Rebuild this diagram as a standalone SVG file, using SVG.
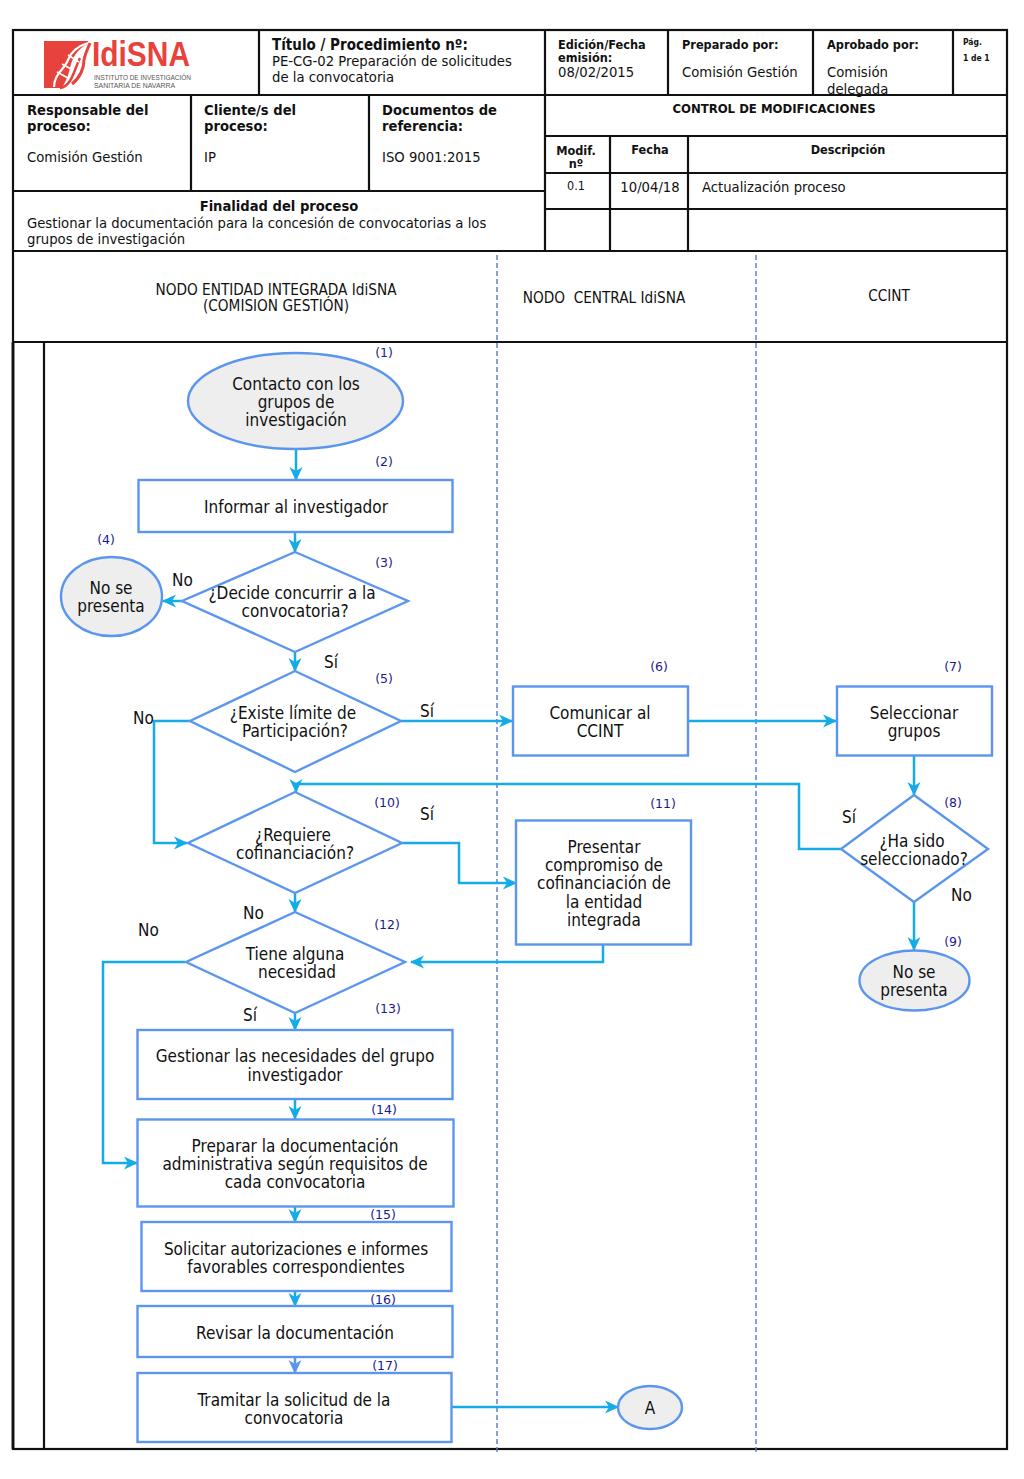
<svg xmlns="http://www.w3.org/2000/svg" width="1024" height="1479" viewBox="0 0 1024 1479">
<style>
text{font-family:"DejaVu Sans Condensed","DejaVu Sans","Liberation Sans",sans-serif;font-stretch:condensed;fill:#111}
.h{font-size:14.6px;font-weight:bold}
.t{font-size:14.7px}
.s{font-size:12.6px;font-weight:bold}
.n{font-size:17px;text-anchor:middle;transform:translateY(0.7px)}
.num{font-family:"DejaVu Sans","Liberation Sans",sans-serif;font-stretch:normal;font-size:12.5px;fill:#1a1a8c;text-anchor:middle}
.l{font-size:17px;transform:translateY(0.7px)}
.c{text-anchor:middle}
.lane{font-size:15.2px}
.logo{font-family:"Liberation Sans",sans-serif;font-stretch:normal}
.grid{stroke:#111;stroke-width:2.2;fill:none}
.shape{fill:#fff;stroke:#5b96ee;stroke-width:2.4}
.grey{fill:#eeeeee;stroke:#5b96ee;stroke-width:2.4}
.conn{fill:none;stroke:#14ace8;stroke-width:2.5}
.dash{stroke:#5577cc;stroke-width:1.4;stroke-dasharray:5 3;fill:none}
</style>
<defs>
<marker id="a" viewBox="0 0 14 14" refX="13" refY="7" markerWidth="14" markerHeight="14" markerUnits="userSpaceOnUse" orient="auto"><path d="M0,0.500 L14,7 L0,13.500 L4,7 Z" fill="#14ace8"/></marker>
<marker id="b" viewBox="0 0 14 14" refX="13" refY="7" markerWidth="14" markerHeight="14" markerUnits="userSpaceOnUse" orient="auto"><path d="M0,0.500 L14,7 L0,13.500 L4,7 Z" fill="#5b96ee"/></marker>
</defs>
<rect width="1024" height="1479" fill="#fff"/>
<g id="grid" class="grid">
<rect x="13" y="30" width="994" height="1419"/>
<path d="M259 30V95M545 30V251M668 30V95M813 30V95M953 30V95M13 95H1007M191 95V191M369 95V191M13 191H545M13 251H1007M545 136H1007M545 173H1007M545 209H1007M610 136V251M688 136V251M13 342H1007M44 342V1449"/>
<path d="M13 342V1449" stroke-width="2.8"/>
</g>
<g id="logo">
<path d="M44 41H88V44C78 48 72 58 70 68C68 78 64 84 62 88H44Z" fill="#e8423c"/>
<path d="M72 84C80 78 84 68 84 60C85 54 88 48 90 43" fill="none" stroke="#e8423c" stroke-width="3"/>
<path d="M54 87C54 74 64 70 68 60C71 52 78 46 88 43" fill="none" stroke="#fff" stroke-width="2.2"/>
<path d="M60 88C72 86 74 70 80 58" fill="none" stroke="#e8423c" stroke-width="2.5"/>
<path d="M57 72L68 78M62 64L73 70M68 55L79 62" fill="none" stroke="#fff" stroke-width="1.6"/>
<text class="logo" x="92" y="66" style="font-size:35px;font-weight:bold;fill:#e8423c" textLength="98" lengthAdjust="spacingAndGlyphs">IdiSNA</text>
<text class="logo" x="94" y="80" style="font-size:7px;fill:#555" textLength="97" lengthAdjust="spacingAndGlyphs">INSTITUTO DE INVESTIGACIÓN</text>
<text class="logo" x="94" y="88" style="font-size:7px;fill:#555" textLength="81" lengthAdjust="spacingAndGlyphs">SANITARIA DE NAVARRA</text>
</g>
<g id="header-text">
<text class="h" x="272" y="50" style="font-size:15px">Título / Procedimiento nº:</text>
<text class="t" x="272" y="66">PE-CG-02 Preparación de solicitudes</text>
<text class="t" x="272" y="82">de la convocatoria</text>
<text class="s" x="558" y="49">Edición/Fecha</text>
<text class="s" x="558" y="62">emisión:</text>
<text class="t" x="558" y="77">08/02/2015</text>
<text class="s" x="682" y="49">Preparado por:</text>
<text class="t" x="682" y="77">Comisión Gestión</text>
<text class="s" x="827" y="49">Aprobado por:</text>
<text class="t" x="827" y="77">Comisión</text>
<text class="t" x="827" y="94">delegada</text>
<text x="963" y="45" style="font-size:8.500px;font-weight:bold">Pág.</text>
<text x="963" y="61" style="font-size:8.500px;font-weight:bold">1 de 1</text>
<text class="h" x="27" y="115">Responsable del</text>
<text class="h" x="27" y="131">proceso:</text>
<text class="t" x="27" y="162">Comisión Gestión</text>
<text class="h" x="204" y="115">Cliente/s del</text>
<text class="h" x="204" y="131">proceso:</text>
<text class="t" x="204" y="162">IP</text>
<text class="h" x="382" y="115">Documentos de</text>
<text class="h" x="382" y="131">referencia:</text>
<text class="t" x="382" y="162">ISO 9001:2015</text>
<text class="h c" x="279" y="211" style="font-size:14.600px">Finalidad del proceso</text>
<text class="t" x="27" y="228">Gestionar la documentación para la concesión de convocatorias a los</text>
<text class="t" x="27" y="244">grupos de investigación</text>
<text class="s c" x="774" y="113" style="font-size:13px">CONTROL DE MODIFICACIONES</text>
<text class="s c" x="576" y="155">Modif.</text>
<text class="s c" x="576" y="168">nº</text>
<text class="s c" x="650" y="154">Fecha</text>
<text class="s c" x="848" y="154">Descripción</text>
<text class="c" x="576" y="190" style="font-size:12.500px">0.1</text>
<text class="t c" x="650" y="192">10/04/18</text>
<text class="t" x="702" y="192">Actualización proceso</text>
<text class="lane c" x="276" y="295">NODO ENTIDAD INTEGRADA IdiSNA</text>
<text class="lane c" x="276" y="311">(COMISION GESTIÓN)</text>
<text class="lane c" x="604" y="303" xml:space="preserve">NODO  CENTRAL IdiSNA</text>
<text class="lane c" x="889" y="301">CCINT</text>
</g>
<g id="lanes"><path class="dash" d="M497 255V1455M756 255V1455"/></g>
<g id="connectors">
<path class="conn" marker-end="url(#a)" d="M296 449V480"/>
<path class="conn" marker-end="url(#a)" d="M295 532V552"/>
<path class="conn" marker-end="url(#a)" d="M182 601H163"/>
<path class="conn" marker-end="url(#a)" d="M295 652V671"/>
<path class="conn" marker-end="url(#a)" d="M401 721H512"/>
<path class="conn" marker-end="url(#a)" d="M688 721H836"/>
<path class="conn" marker-end="url(#a)" d="M914 756V795"/>
<path class="conn" marker-end="url(#a)" d="M841 849H799V784H296V792" />
<path class="conn" marker-end="url(#a)" d="M190 721H154V843H187"/>
<path class="conn" marker-end="url(#a)" d="M402 843H459V883H516"/>
<path class="conn" marker-end="url(#a)" d="M295 893V912"/>
<path class="conn" marker-end="url(#a)" d="M603 945V962H411"/>
<path class="conn" marker-end="url(#a)" d="M185 962H103V1163H137"/>
<path class="conn" marker-end="url(#a)" d="M295 1013V1030"/>
<path class="conn" marker-end="url(#a)" d="M914 902V950"/>
<path class="conn" marker-end="url(#a)" d="M295 1099V1119"/>
<path class="conn" marker-end="url(#a)" d="M295 1206V1222"/>
<path class="conn" marker-end="url(#a)" d="M295 1291V1306"/>
<path class="conn" style="stroke:#5b96ee" marker-end="url(#b)" d="M295 1357V1373"/>
<path class="conn" marker-end="url(#a)" d="M452 1407H618"/>
</g>
<g id="n1"><ellipse class="grey" cx="295.500" cy="401" rx="107.500" ry="48"/><text class="n" x="296" y="389">Contacto con los</text><text class="n" x="296" y="407">grupos de</text><text class="n" x="296" y="425">investigación</text><text class="num" x="384" y="357">(1)</text></g>
<g id="n2"><rect class="shape" x="138.500" y="480" width="314" height="52"/><text class="n" x="296" y="512">Informar al investigador</text><text class="num" x="384" y="466">(2)</text></g>
<g id="n3"><polygon class="shape" points="295,552 408,601 295,652 182,601"/><text class="n" x="292" y="598">¿Decide concurrir a la</text><text class="n" x="295" y="616">convocatoria?</text><text class="num" x="384" y="567">(3)</text></g>
<g id="n4"><ellipse class="grey" cx="111.500" cy="596.500" rx="50.500" ry="39.500"/><text class="n" x="111" y="593">No se</text><text class="n" x="111" y="611">presenta</text><text class="num" x="106" y="544">(4)</text></g>
<g id="n5"><polygon class="shape" points="295,671 401,721 295,772 190,721"/><text class="n" x="293" y="718">¿Existe límite de</text><text class="n" x="295" y="736">Participación?</text><text class="num" x="384" y="683">(5)</text></g>
<g id="n6"><rect class="shape" x="513" y="686.500" width="175" height="69"/><text class="n" x="600" y="718">Comunicar al</text><text class="n" x="600" y="736">CCINT</text><text class="num" x="659" y="671">(6)</text></g>
<g id="n7"><rect class="shape" x="837" y="686.500" width="155" height="69"/><text class="n" x="914" y="718">Seleccionar</text><text class="n" x="914" y="736">grupos</text><text class="num" x="953" y="671">(7)</text></g>
<g id="n8"><polygon class="shape" points="914,795 988,849 914,902 841,849"/><text class="n" x="912" y="846">¿Ha sido</text><text class="n" x="914" y="864">seleccionado?</text><text class="num" x="953" y="807">(8)</text></g>
<g id="n9"><ellipse class="grey" cx="914.500" cy="980.500" rx="55" ry="30"/><text class="n" x="914" y="977">No se</text><text class="n" x="914" y="995">presenta</text><text class="num" x="953" y="946">(9)</text></g>
<g id="n10"><polygon class="shape" points="295,792 402,843 295,893 188,843"/><text class="n" x="293" y="840">¿Requiere</text><text class="n" x="295" y="858">cofinanciación?</text><text class="num" x="387" y="807">(10)</text></g>
<g id="n11"><rect class="shape" x="516" y="820.500" width="175" height="124"/><text class="n" x="604" y="852">Presentar</text><text class="n" x="604" y="870">compromiso de</text><text class="n" x="604" y="888">cofinanciación de</text><text class="n" x="604" y="907">la entidad</text><text class="n" x="604" y="925">integrada</text><text class="num" x="663" y="808">(11)</text></g>
<g id="n12"><polygon class="shape" points="295,912 405,962 295,1013 186,962"/><text class="n" x="295" y="959">Tiene alguna</text><text class="n" x="297" y="977">necesidad</text><text class="num" x="387" y="929">(12)</text></g>
<g id="n13"><rect class="shape" x="137.500" y="1030" width="315" height="69"/><text class="n" x="295" y="1061">Gestionar las necesidades del grupo</text><text class="n" x="295" y="1080">investigador</text><text class="num" x="388" y="1013">(13)</text></g>
<g id="n14"><rect class="shape" x="137.500" y="1119.500" width="316" height="87"/><text class="n" x="295" y="1151">Preparar la documentación</text><text class="n" x="295" y="1169">administrativa según requisitos de</text><text class="n" x="295" y="1187">cada convocatoria</text><text class="num" x="384" y="1114">(14)</text></g>
<g id="n15"><rect class="shape" x="141.500" y="1222" width="310" height="69"/><text class="n" x="296" y="1254">Solicitar autorizaciones e informes</text><text class="n" x="296" y="1272">favorables correspondientes</text><text class="num" x="383" y="1219">(15)</text></g>
<g id="n16"><rect class="shape" x="137.500" y="1306" width="315" height="51"/><text class="n" x="295" y="1338">Revisar la documentación</text><text class="num" x="383" y="1304">(16)</text></g>
<g id="n17"><rect class="shape" x="137.500" y="1373" width="314" height="69"/><text class="n" x="294" y="1405">Tramitar la solicitud de la</text><text class="n" x="294" y="1423">convocatoria</text><text class="num" x="385" y="1370">(17)</text></g>
<g id="nA"><ellipse class="grey" cx="650" cy="1407.500" rx="32" ry="21.500"/><text class="n" x="650" y="1413">A</text></g>
<g id="edge-labels">
<text class="l" x="172" y="585">No</text>
<text class="l" x="324" y="667">Sí</text>
<text class="l" x="133" y="723">No</text>
<text class="l" x="420" y="716">Sí</text>
<text class="l" x="420" y="819">Sí</text>
<text class="l" x="842" y="822">Sí</text>
<text class="l" x="951" y="900">No</text>
<text class="l" x="243" y="918">No</text>
<text class="l" x="138" y="935">No</text>
<text class="l" x="243" y="1020">Sí</text>
</g>
</svg>
